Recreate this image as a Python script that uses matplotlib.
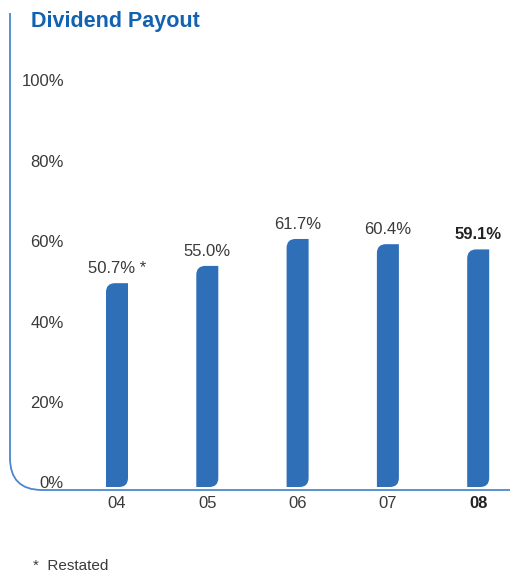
import matplotlib.pyplot as plt
from matplotlib.path import Path
from matplotlib.patches import PathPatch

plt.rcParams['font.family'] = ['Liberation Sans', 'DejaVu Sans']

# data
years = ["04", "05", "06", "07", "08"]
payout = [50.7, 55.0, 61.7, 60.4, 59.1]
value_labels = ["50.7% *", "55.0%", "61.7%", "60.4%", "59.1%"]
y_ticks = [0, 20, 40, 60, 80, 100]

bar_color = "#2F6FB8"
line_color = "#4A88CF"
text_color = "#3A3A3A"

fig = plt.figure(figsize=(5.22, 5.75), dpi=100)
ax = fig.add_axes([0, 88 / 575, 1, 402 / 575])

# one x unit = 90.3 px, one y unit = 4.02 px
px_x = 1 / 90.3
px_y = 1 / 4.02
ax.set_xlim(-117 * px_x, (522 - 117) * px_x)
ax.set_ylim(0, 100)
ax.axis("off")


def leaf_bar(x, h, w, r_px):
    # bar with rounded top-left and bottom-right corners
    rx, ry = r_px * px_x, r_px * px_y
    left, right = x - w / 2, x + w / 2
    verts = [
        (left, 0), (right - rx, 0),
        (right, 0), (right, ry),
        (right, h), (left + rx, h),
        (left, h), (left, h - ry),
        (left, 0), (left, 0),
    ]
    codes = [Path.MOVETO, Path.LINETO,
             Path.CURVE3, Path.CURVE3,
             Path.LINETO, Path.LINETO,
             Path.CURVE3, Path.CURVE3,
             Path.LINETO, Path.CLOSEPOLY]
    return PathPatch(Path(verts, codes), facecolor=bar_color, edgecolor="none")


bar_w = 22 * px_x
for i, (yr, v, lab) in enumerate(zip(years, payout, value_labels)):
    ax.add_patch(leaf_bar(i, v, bar_w, 9))
    last = i == len(years) - 1
    ax.annotate(lab, (i, v), xytext=(0, 5), textcoords="offset points",
                ha="center", va="bottom", fontsize=12,
                color="#222222" if last else text_color,
                fontweight="bold" if last else "normal")
    ax.text(i, -16 * px_y, yr, ha="center", va="center", fontsize=12,
            color="#222222" if last else text_color,
            fontweight="bold" if last else "normal")

# y tick labels
for t in y_ticks:
    ax.text(64 * px_x - 117 * px_x, t + 3 * px_y, f"{t}%", ha="right",
            va="center", fontsize=12, color=text_color)

# axis frame with rounded lower-left corner
x0 = -107 * px_x
y0 = -3 * px_y
rx, ry = 32 * px_x, 32 * px_y
frame = Path(
    [(x0, 474 * px_y), (x0, y0 + ry), (x0, y0), (x0 + rx, y0),
     ((510 - 117) * px_x, y0)],
    [Path.MOVETO, Path.LINETO, Path.CURVE3, Path.CURVE3, Path.LINETO])
ax.add_patch(PathPatch(frame, facecolor="none", edgecolor=line_color,
                       lw=1.3, clip_on=False))

fig.text(31 / 522, 1 - 22 / 575, "Dividend Payout", ha="left", va="center",
         fontsize=15.5, fontweight="bold", color="#1262B2")
fig.text(33 / 522, 1 - 566 / 575, "*  Restated", ha="left", va="center",
         fontsize=11, color=text_color)

fig.savefig("out.png", dpi=100)
